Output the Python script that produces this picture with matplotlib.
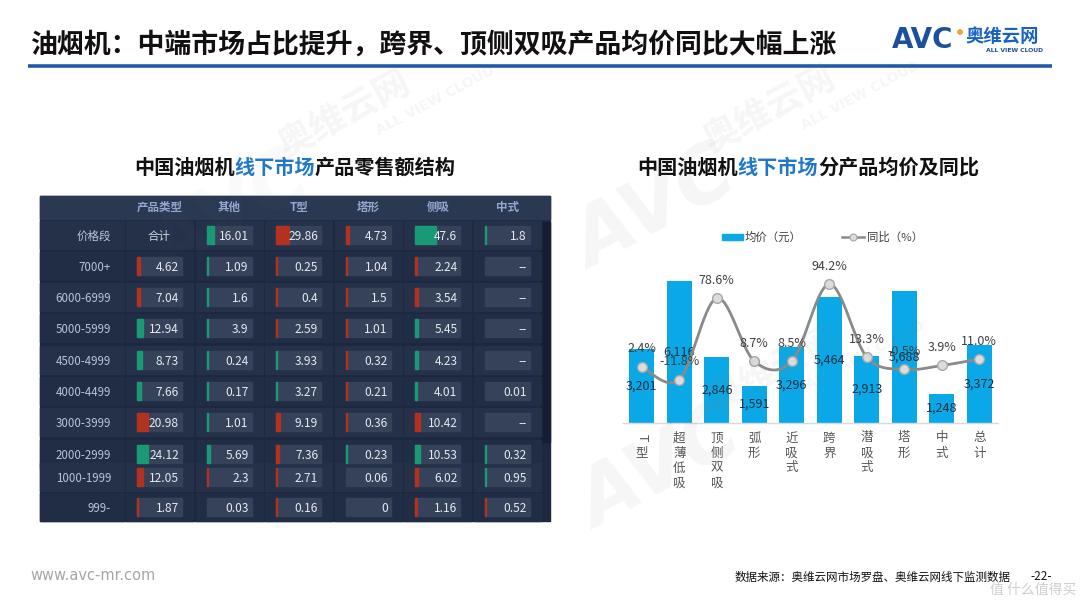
import numpy as np
import matplotlib
matplotlib.use('Agg')
import matplotlib.pyplot as plt
from matplotlib.patches import Rectangle, Circle

plt.rcParams['font.family'] = ['Noto Sans CJK SC', 'DejaVu Sans']

# ---------------- data ----------------
page_title = '油烟机：中端市场占比提升，跨界、顶侧双吸产品均价同比大幅上涨'
left_title = ['中国油烟机', '线下市场', '产品零售额结构']
right_title = ['中国油烟机', '线下市场', '分产品均价及同比']

col_headers = ['产品类型', '其他', 'T型', '塔形', '侧吸', '中式']
row_labels = ['价格段', '7000+', '6000-6999', '5000-5999', '4500-4999',
              '4000-4499', '3000-3999', '2000-2999', '1000-1999', '999-']
total_label = '合计'

# first row: share of each product type (其他, T型, 塔形, 侧吸, 中式)
type_totals = [16.01, 29.86, 4.73, 47.6, 1.8]
type_chg = [3.5, -6.5, -1.5, 10.5, 0.5]
# first column: share of each price band
band_totals = [4.62, 7.04, 12.94, 8.73, 7.66, 20.98, 24.12, 12.05, 1.87]
band_chg = [-1.5, -1.5, 3.0, 2.5, 1.8, -5.5, 5.5, -3.0, -0.5]
# body cells per product type
other_vals = [1.09, 1.6, 3.9, 0.24, 0.17, 1.01, 5.69, 2.3, 0.03]
other_chg = [0.5, 0.5, 0.6, 0.4, 0.3, 0.4, 1.5, -0.5, 0]
t_vals = [0.25, 0.4, 2.59, 3.93, 3.27, 9.19, 7.36, 2.71, 0.16]
t_chg = [-0.4, -0.4, -0.5, 0.5, 0.5, -2.0, -1.5, -0.5, -0.3]
tower_vals = [1.04, 1.5, 1.01, 0.32, 0.21, 0.36, 0.23, 0.06, 0]
tower_chg = [-0.4, -0.4, -0.4, -0.3, -0.3, -0.4, 0.3, 0, 0]
side_vals = [2.24, 3.54, 5.45, 4.23, 4.01, 10.42, 10.53, 6.02, 1.16]
side_chg = [-1.0, -1.5, 1.5, 1.3, 0.5, -2.5, 2.5, -1.5, -0.4]
chinese_vals = [None, None, None, None, 0.01, None, 0.32, 0.95, 0.52]
chinese_chg = [0, 0, 0, 0, 0, 0, 0.3, 0.4, -0.3]

products = ['T型', '超薄低吸', '顶侧双吸', '弧形', '近吸式', '跨界', '潜吸式', '塔形', '中式', '总计']
avg_price = [3201, 6116, 2846, 1591, 3296, 5464, 2913, 5688, 1248, 3372]
yoy = [2.4, -11.8, 78.6, 8.7, 8.5, 94.2, 13.3, -0.5, 3.9, 11.0]
legend_labels = ['均价（元）', '同比（%）']

footer_url = 'www.avc-mr.com'
footer_src = '数据来源：奥维云网市场罗盘、奥维云网线下监测数据'
page_no = '-22-'

# ---------------- styles ----------------
BAR_C = '#0aa8e6'
LINE_C = '#8a8a8a'
BLUE_T = '#1f78c8'
GREEN = '#1a9a74'
RED = '#b3321f'

fig = plt.figure(figsize=(10.8, 6.08), dpi=100, facecolor='white')

# background overlay in pixel coordinates
bg = fig.add_axes([0, 0, 1, 1], zorder=0)
bg.set_xlim(0, 1080)
bg.set_ylim(608, 0)
bg.axis('off')

# header
bg.text(30, 45, page_title, fontsize=19.4, fontweight='bold', color='#111111',
        ha='left', va='center')
bg.plot([28, 1052], [66, 66], color='#1f5aa6', lw=2.6, solid_capstyle='butt')
bg.text(892, 40, 'AVC', fontsize=20, fontweight='bold', color='#1c4f9c',
        family='DejaVu Sans', ha='left', va='center')
bg.add_patch(Circle((960, 32), 2.2, color='#f2a33a'))
bg.text(965, 37, '奥维云网', fontsize=13.2, fontweight='bold', color='#1a62c0',
        ha='left', va='center')
bg.text(1014, 50, 'ALL VIEW CLOUD', fontsize=4.4, fontweight='bold', color='#1c4f9c',
        family='DejaVu Sans', ha='center', va='center')


def chained_title(parts, cx, cy, fs):
    n = sum(len(p) for p in parts)
    px = fs * 100 / 72.0
    left = cx - n * px / 2
    t = bg.text(left, cy, parts[0], fontsize=fs, fontweight='bold', color='#111111',
                ha='left', va='center')
    for k, p in enumerate(parts[1:]):
        col = BLUE_T if k == 0 else '#111111'
        t = bg.annotate(p, xy=(1, 0), xycoords=t, xytext=(0, 0), textcoords='offset pixels',
                        fontsize=fs, fontweight='bold', color=col, ha='left', va='bottom')


chained_title(left_title, 295, 167, 14.5)
chained_title(right_title, 808, 167, 14.5)

# ---------------- table ----------------
px0, py0, pw, ph = 40, 196, 510, 325
bg.add_patch(Rectangle((px0, py0), pw, ph, color='#1c283e', zorder=1))
bg.add_patch(Rectangle((px0, py0), pw, 23, color='#2a3852', zorder=1))
bg.add_patch(Rectangle((541, 222), 9, 220, color='#161f31', zorder=1))

box_left = [137 + 69.6 * k for k in range(6)]
box_w, box_h = 45, 18
row_y = [235, 266, 297, 328, 360, 391, 422, 454, 477, 507]

for k, h in enumerate(col_headers):
    bg.text(box_left[k] + box_w / 2, 207, h, fontsize=8.3, fontweight='bold',
            color='#93a9d0', ha='center', va='center', zorder=3)

columns_vals = [band_totals, other_vals, t_vals, tower_vals, side_vals, chinese_vals]
columns_chg = [band_chg, other_chg, t_chg, tower_chg, side_chg, chinese_chg]

for r, yc in enumerate(row_y):
    shade = '#243149' if r % 2 == 0 else '#212d45'
    bg.add_patch(Rectangle((px0, yc - 14), 84, 28, color=shade, zorder=1.5))
    for k in range(6):
        bg.add_patch(Rectangle((box_left[k] - 11, yc - 14), 67, 28, color=shade, zorder=1.5))
    bg.text(111, yc, row_labels[r], fontsize=8.3, color='#b9c3d5', ha='right',
            va='center_baseline', zorder=3)
    for k in range(6):
        bl = box_left[k]
        if r == 0:
            if k == 0:
                bg.text(bl + box_w / 2, yc, total_label, fontsize=8.3, color='#d0d6e0',
                        ha='center', va='center_baseline', zorder=3)
                continue
            v = type_totals[k - 1]
            c = type_chg[k - 1]
        else:
            v = columns_vals[k][r - 1]
            c = columns_chg[k][r - 1]
        bg.add_patch(Rectangle((bl, yc - box_h / 2), box_w, box_h, color='#354259', zorder=2))
        if c:
            bg.add_patch(Rectangle((bl, yc - box_h / 2), max(abs(c) * 2, 1.2), box_h,
                                   color=GREEN if c > 0 else RED, zorder=2.2))
        txt = '--' if v is None else f'{v:g}'
        bg.text(bl + box_w - 3, yc, txt, fontsize=8.6, color='#e6eaf0', ha='right',
                va='center_baseline', zorder=3)

# ---------------- right chart ----------------
ax = fig.add_axes([623 / 1080, (608 - 423) / 608, 375 / 1080, 162 / 608], zorder=2)
ax.patch.set_alpha(0)
x = np.arange(len(products))
ax.bar(x, avg_price, width=0.667, color=BAR_C, zorder=2)
ax.set_xlim(-0.5, len(products) - 0.5)
ax.set_ylim(0, 7000)
for s in ['top', 'left', 'right']:
    ax.spines[s].set_visible(False)
ax.spines['bottom'].set_color('#d9d9d9')
ax.spines['bottom'].set_linewidth(1)
ax.set_xticks([])
ax.set_yticks([])
for i, v in enumerate(avg_price):
    ax.text(i, v / 2, f'{v:,}', ha='center', va='center', fontsize=9, color='#1e2e40', zorder=4)

for i, name in enumerate(products):
    for j, ch in enumerate(name):
        ax.annotate(ch, xy=(i, 0), xycoords=('data', 'axes fraction'),
                    xytext=(0, -(15 + 15 * j)), textcoords='offset pixels',
                    ha='center', va='center', fontsize=9, color='#555555',
                    rotation=-90 if ch.isascii() else 0)

ax2 = ax.twinx()
ax2.set_ylim(-60, 120)
ax2.axis('off')

# smooth (Bezier) line through the yoy points
xs, ys = [], []
pts = np.column_stack([x, yoy]).astype(float)
n = len(pts)
for i in range(n - 1):
    p0 = pts[max(i - 1, 0)]
    p1 = pts[i]
    p2 = pts[i + 1]
    p3 = pts[min(i + 2, n - 1)]
    c1 = p1 + (p2 - p0) / 6
    c2 = p2 - (p3 - p1) / 6
    t = np.linspace(0, 1, 30)[:, None]
    seg = (1 - t) ** 3 * p1 + 3 * (1 - t) ** 2 * t * c1 + 3 * (1 - t) * t ** 2 * c2 + t ** 3 * p2
    xs.extend(seg[:, 0])
    ys.extend(seg[:, 1])
ax2.plot(xs, ys, color=LINE_C, lw=2.0, zorder=3)
ax2.plot(x, yoy, 'o', ms=7, mfc='#dcdcdc', mec='#a8a8a8', mew=1, zorder=4)
for i, v in enumerate(yoy):
    ax2.annotate(f'{v:.1f}%', xy=(i, v), xytext=(0, 18), textcoords='offset pixels',
                 ha='center', va='center', fontsize=9, color='#404040', zorder=5)

# legend
bg.add_patch(Rectangle((722, 234), 21, 6, color=BAR_C))
bg.text(745, 237, legend_labels[0], fontsize=8.2, color='#404040', ha='left', va='center')
bg.plot([842, 864], [237, 237], color=LINE_C, lw=1.8)
bg.plot([853], [237], 'o', ms=5, mfc='#dcdcdc', mec='#a8a8a8', mew=0.8)
bg.text(867, 237, legend_labels[1], fontsize=8.2, color='#404040', ha='left', va='center')

# footer
bg.text(30, 575, footer_url, fontsize=10.5, color='#a6a6a6', ha='left', va='center',
        family='DejaVu Sans')
bg.text(735, 577, footer_src, fontsize=8.3, color='#111111', ha='left', va='center')
bg.text(1030, 577, page_no, fontsize=8.5, color='#111111', ha='left', va='center')

# watermarks
wm = fig.add_axes([0, 0, 1, 1], zorder=6)
wm.set_xlim(0, 1080)
wm.set_ylim(608, 0)
wm.axis('off')
wm.patch.set_alpha(0)
for (ax_, ay_, a_avc) in [(230, 215, 0.04), (655, 210, 0.075), (660, 470, 0.075)]:
    wm.text(ax_, ay_, 'AVC', fontsize=56, fontweight='bold', fontstyle='italic',
            color='#808080', alpha=a_avc, rotation=28, ha='center', va='center',
            family='DejaVu Sans')
    wm.text(ax_ + 115, ay_ - 100, '奥维云网', fontsize=26, fontweight='bold',
            color='#808080', alpha=0.075, rotation=28, ha='center', va='center')
    wm.text(ax_ + 205, ay_ - 115, 'ALL VIEW CLOUD', fontsize=10, fontweight='bold',
            color='#808080', alpha=0.075, rotation=28, ha='center', va='center',
            family='DejaVu Sans')
wm.text(1076, 590, '值 什么值得买', fontsize=10, color='#cfcfcf', ha='right', va='center')

fig.savefig('out.png', dpi=100, facecolor='white')
